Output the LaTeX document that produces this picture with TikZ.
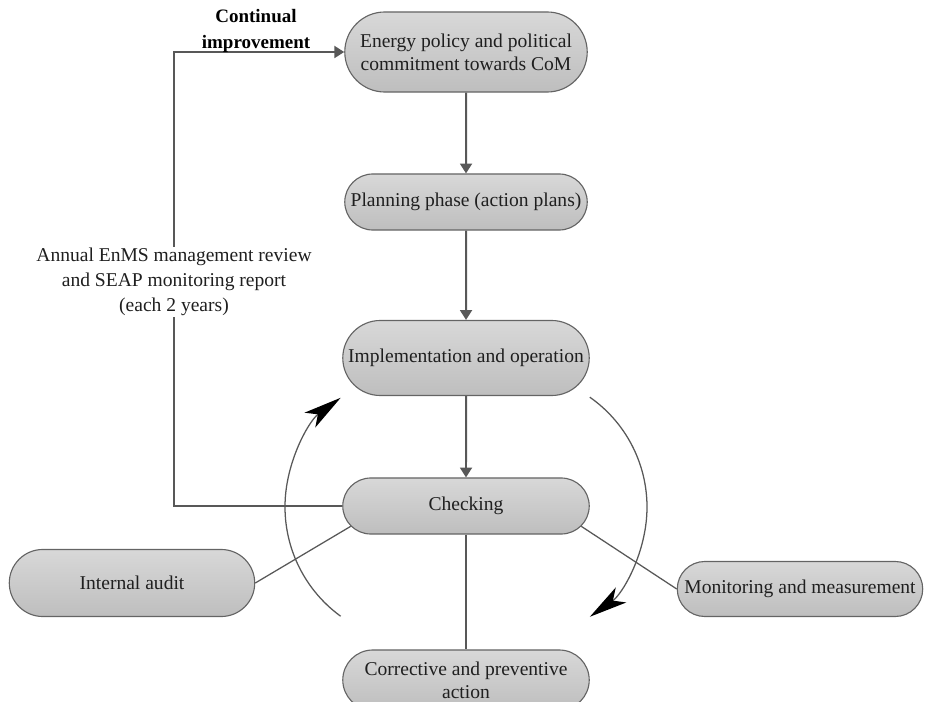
\documentclass[tikz,border=0pt]{standalone}
\usepackage{fontspec}
\setmainfont{Liberation Serif}
\usetikzlibrary{shapes.misc, arrows.meta, calc}
\definecolor{bxT}{RGB}{216,216,216}
\definecolor{bxB}{RGB}{190,190,190}
\definecolor{bxE}{RGB}{100,100,100}
\definecolor{lnG}{RGB}{88,88,88}

\begin{document}
\begin{tikzpicture}[x=0.025cm, y=-0.025cm,
    phase/.style={rounded rectangle, draw=bxE, line width=0.8pt, top color=bxT, bottom color=bxB,
                  minimum width=6.3cm, minimum height=1.4cm, align=center, inner sep=2pt,
                  text=black!88, font=\fontsize{13.9}{16.5}\selectfont},
    flow/.style={draw=lnG, line width=1.4pt, -{Triangle[length=7pt, width=8.5pt]}},
    link/.style={draw=lnG, line width=0.9pt},
    turn/.style={draw=lnG, line width=0.9pt,
                 -{Stealth[length=27pt, width=13pt, inset=7pt, color=black]}},
    lbl/.style={align=center, text=black!88, font=\fontsize{13.9}{17.8}\selectfont},
    ttl/.style={align=center, text=black, font=\bfseries\fontsize{13.5}{19}\selectfont}
  ]
  \useasboundingbox (0,0) rectangle (926,702);
  \clip (0,0) rectangle (926,702);

  % main cycle
  \node[phase, minimum height=2cm, minimum width=6.2cm] (energy) at (466,52)
    {Energy policy and political\\commitment towards CoM};
  \node[phase, minimum width=6.2cm] (plan) at (466,202) {Planning phase (action plans)};
  \node[phase, minimum height=1.875cm] (impl) at (466,358) {Implementation and operation};
  \node[phase] (check) at (466,506) {Checking};

  % around checking
  \node[phase, minimum width=6.275cm, minimum height=1.675cm] (audit) at (132,583) {Internal audit};
  \node[phase, minimum width=6.275cm, minimum height=1.375cm] (monit) at (800,589) {Monitoring and measurement};
  \node[phase, minimum height=1.5cm] (corr) at (466,680) {Corrective and preventive\\action};

  \draw[flow] (energy) -- (plan);
  \draw[flow] (plan) -- (impl);
  \draw[flow] (impl) -- (check);

  \draw[link] (check.190) -- (audit.east);
  \draw[link] (check.-10) -- (monit.west);
  \draw[link, line width=1.2pt] (check.south) -- (corr.north);

  % review loop
  \coordinate (loop) at (174,506);
  \draw[flow] (check.west) -- (loop) |- (energy.west);
  \node[lbl, fill=white, inner sep=1pt] (review) at (174,282)
    {Annual EnMS management review\\and SEAP monitoring report\\(each 2 years)};
  \node[ttl] (cont) at (256,31) {Continual\\improvement};

  % turning arrows
  \coordinate (lc) at (420,507);
  \coordinate (rc) at (513,507);
  \draw[turn] ($(lc)+(126:135)$) arc[start angle=126, end angle=234, radius=135];
  \draw[turn] ($(rc)+(-55:134)$) arc[start angle=-55, end angle=55, radius=134];
\end{tikzpicture}
\end{document}
